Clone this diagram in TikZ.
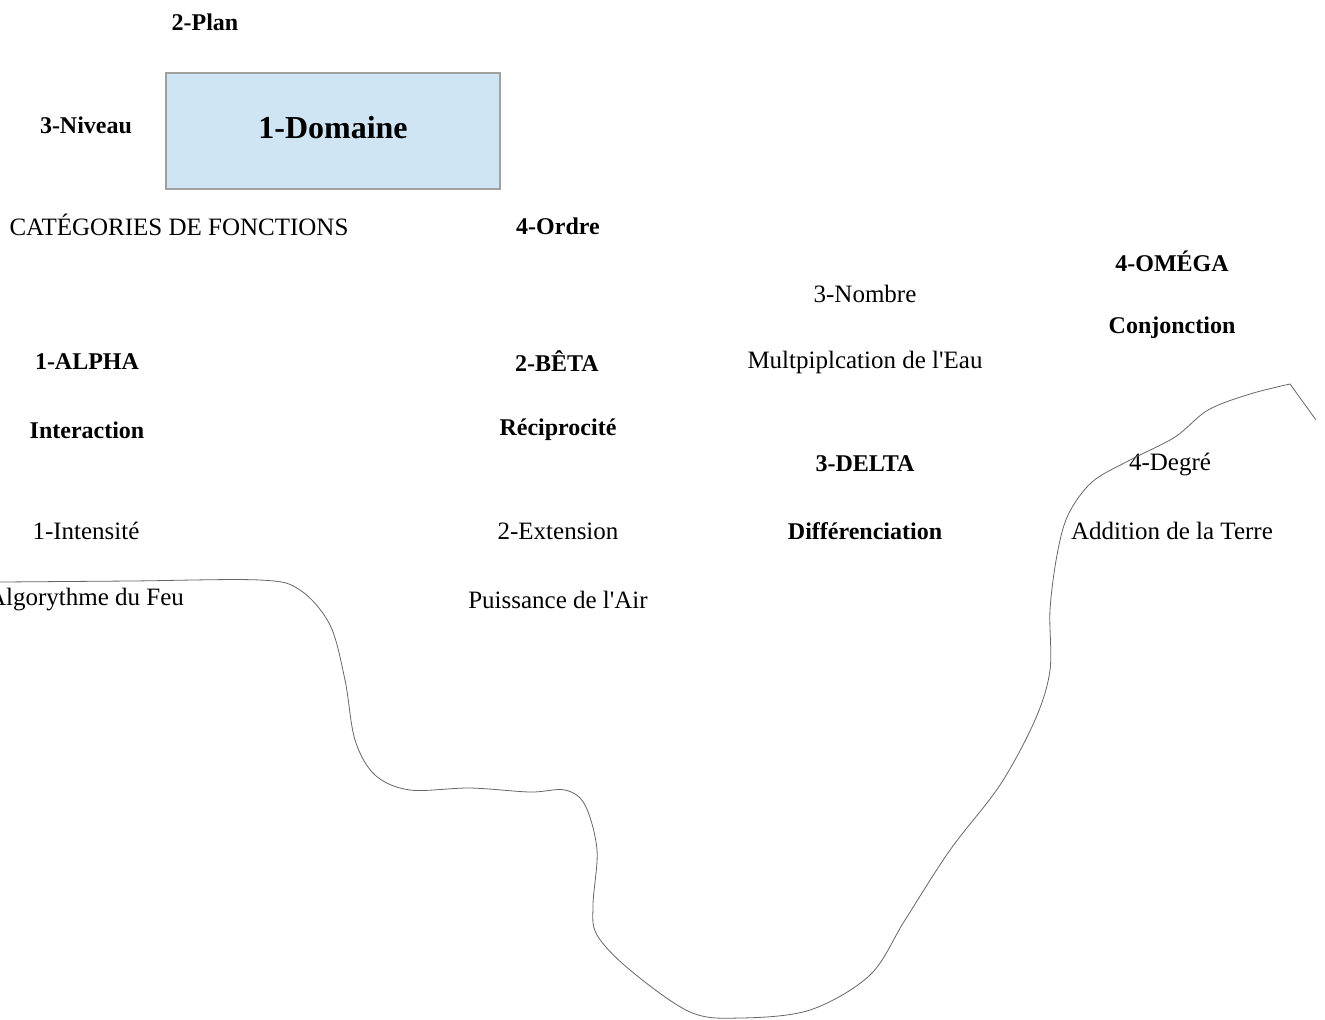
\documentclass[tikz,border=0pt]{standalone}
\usepackage{fontspec}
\setmainfont{Liberation Serif}
\definecolor{domblue}{RGB}{207,229,243}
\definecolor{bordgris}{RGB}{160,160,160}
\begin{document}
\begin{tikzpicture}[x=0.5pt,y=-0.5pt,
		titre/.style={font=\fontsize{12}{14}\selectfont\bfseries},
		texte/.style={font=\fontsize{12.5}{14}\selectfont},
		domaine/.style={draw=bordgris,line width=0.6pt,fill=domblue,minimum width=167pt,minimum height=58pt,inner sep=0pt,font=\fontsize{16}{18}\selectfont\bfseries}]
		\useasboundingbox (0,0) rectangle (1325,1019);
		\clip (0,0) rectangle (1325,1019);

		\node[domaine] (dom) at (333,131) {};
		\node[font=\fontsize{16}{18}\selectfont\bfseries] (domtxt) at (333,128) {1-Domaine};
		\node[titre] (plan) at (205,22) {2-Plan};
		\node[titre] (niveau) at (86,125) {3-Niveau};
		\node[texte] (cat) at (179,225) {CATÉGORIES DE FONCTIONS};
		\node[titre] (ordre) at (558,226) {4-Ordre};

		\node[titre] (alpha) at (87,362) {1-ALPHA};
		\node[titre] (inter) at (87,430) {Interaction};
		\node[texte] (intens) at (86,531) {1-Intensité};
		\node[texte] (feu) at (86,600) {Algorythme du Feu};

		\node[titre] (beta) at (557,361) {2-BÊTA};
		\node[titre] (recip) at (558,430) {Réciprocité};
		\node[texte] (ext) at (558,531) {2-Extension};
		\node[texte] (air) at (558,600) {Puissance de l\textquotesingle Air};

		\node[texte] (nombre) at (865,294) {3-Nombre};
		\node[texte] (eau) at (865,362) {Multpiplcation de l\textquotesingle Eau};
		\node[titre] (delta) at (865,464) {3-DELTA};
		\node[titre] (diff) at (865,531) {Différenciation};

		\node[titre] (omega) at (1172,261) {4-OMÉGA};
		\node[titre] (conj) at (1172,328) {Conjonction};
		\node[texte] (degre) at (1170,464) {4-Degré};
		\node[texte] (terre) at (1172,531) {Addition de la Terre};

		\draw[gray!80!black,line width=0.4pt] plot[smooth,tension=0.55] coordinates {(0,582) (130,581) (260,580) (300,590) (330,625) (345,680) (355,740) (375,775) (410,790) (470,788) (530,792) (565,790) (585,805) (597,850) (593,905) (597,935) (630,970) (690,1012) (740,1018) (810,1010) (870,975) (905,920) (950,850) (1000,785) (1035,720) (1050,670) (1050,610) (1057,555) (1068,515) (1092,482) (1130,460) (1175,437) (1208,410) (1250,394) (1290,384)} -- (1316,420);
	\end{tikzpicture}
\end{document}
